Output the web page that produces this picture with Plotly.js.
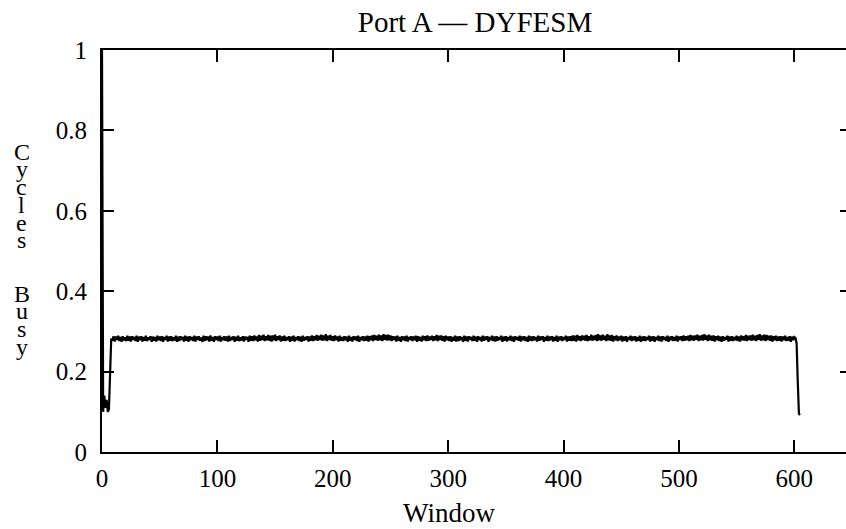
<!DOCTYPE html>
<html>
<head>
<meta charset="utf-8">
<script src="https://cdn.plot.ly/plotly-3.0.1.min.js"></script>
<style>
html,body{margin:0;padding:0;overflow:hidden;background:#fff;}
#chart{width:860px;height:529px;}
</style>
</head>
<body>
<div id="chart"></div>
<script>
// Chart text
const chartTitle = "Port A \u2014 DYFESM";
const xTitle = "Window";
const yTitleChars = ["C","y","c","l","e","s","","","B","u","s","y"];

// Cycles busy per window (window index = position in array, starting at 0)
const busyStart = [1.0, 0.10, 0.14, 0.11, 0.13, 0.10, 0.105, 0.205, 0.282];
const busyMid = [
0.277,0.288,0.275,0.287,0.279,0.289,0.276,0.286,0.274,0.288,0.278,0.285,0.276,0.289,0.277,0.287,0.275,0.288,0.279,0.286,
0.276,0.289,0.274,0.287,0.278,0.288,0.275,0.286,0.277,0.289,0.276,0.285,0.279,0.288,0.274,0.287,0.277,0.286,0.275,0.289,
0.278,0.287,0.276,0.288,0.274,0.286,0.279,0.289,0.275,0.287,0.277,0.288,0.276,0.285,0.278,0.289,0.274,0.287,0.276,0.288,
0.279,0.286,0.275,0.289,0.277,0.287,0.274,0.288,0.278,0.286,0.276,0.289,0.275,0.287,0.279,0.288,0.277,0.285,0.274,0.289,
0.276,0.288,0.278,0.287,0.275,0.290,0.277,0.286,0.274,0.288,0.279,0.287,0.276,0.289,0.275,0.286,0.278,0.288,0.277,0.287,
0.275,0.289,0.276,0.286,0.279,0.288,0.274,0.287,0.277,0.289,0.276,0.285,0.278,0.288,0.275,0.287,0.279,0.286,0.274,0.289,
0.277,0.288,0.276,0.290,0.278,0.287,0.275,0.291,0.277,0.289,0.279,0.292,0.276,0.288,0.278,0.291,0.277,0.289,0.275,0.290,
0.278,0.292,0.276,0.288,0.279,0.290,0.275,0.287,0.277,0.289,0.276,0.286,0.278,0.288,0.274,0.287,0.277,0.289,0.275,0.286,
0.278,0.288,0.276,0.287,0.274,0.289,0.277,0.286,0.279,0.288,0.275,0.287,0.277,0.290,0.276,0.288,0.278,0.291,0.277,0.289,
0.279,0.292,0.277,0.290,0.278,0.293,0.276,0.289,0.279,0.291,0.277,0.288,0.276,0.290,0.278,0.287,0.275,0.289,0.277,0.286,
0.276,0.288,0.278,0.287,0.274,0.289,0.277,0.286,0.275,0.288,0.279,0.287,0.276,0.289,0.274,0.286,0.278,0.288,0.276,0.287,
0.277,0.289,0.275,0.288,0.278,0.290,0.276,0.291,0.279,0.289,0.277,0.292,0.278,0.290,0.276,0.293,0.279,0.291,0.277,0.292,
0.278,0.290,0.276,0.288,0.279,0.287,0.275,0.289,0.277,0.286,0.274,0.288,0.278,0.287,0.276,0.289,0.275,0.286,0.279,0.288,
0.276,0.287,0.278,0.289,0.274,0.288,0.277,0.286,0.275,0.289,0.278,0.288,0.276,0.290,0.277,0.287,0.279,0.289,0.276,0.288,
0.278,0.291,0.276,0.289,0.279,0.290,0.277,0.288,0.275,0.289,0.278,0.287,0.276,0.288,0.274,0.286,0.277,0.289,0.275,0.287,
0.276,0.288,0.278,0.286,0.274,0.289,0.277,0.287,0.275,0.288,0.279,0.286,0.276,0.289,0.277,0.287,0.274,0.288,0.278,0.286,
0.275,0.289,0.277,0.287,0.279,0.288,0.274,0.286,0.278,0.289,0.276,0.287,0.275,0.288,0.277,0.286,0.279,0.289,0.274,0.287,
0.277,0.288,0.275,0.286,0.278,0.289,0.276,0.287,0.274,0.288,0.279,0.286,0.277,0.289,0.275,0.287,0.278,0.288,0.276,0.286,
0.274,0.289,0.277,0.287,0.276,0.288,0.278,0.286,0.275,0.289,0.277,0.287,0.279,0.288,0.274,0.286,0.277,0.289,0.276,0.287,
0.278,0.288,0.275,0.286,0.277,0.289,0.274,0.287,0.278,0.288,0.276,0.286,0.279,0.289,0.275,0.287,0.277,0.288,0.276,0.290,
0.277,0.289,0.275,0.291,0.278,0.288,0.276,0.290,0.279,0.289,0.277,0.291,0.276,0.288,0.278,0.292,0.277,0.289,0.279,0.291,
0.276,0.293,0.278,0.290,0.277,0.292,0.279,0.289,0.276,0.293,0.278,0.290,0.277,0.291,0.275,0.288,0.278,0.290,0.276,0.287,
0.278,0.289,0.275,0.287,0.277,0.288,0.274,0.286,0.279,0.289,0.276,0.287,0.278,0.288,0.275,0.286,0.277,0.289,0.274,0.287,
0.277,0.288,0.276,0.286,0.279,0.289,0.275,0.287,0.277,0.288,0.274,0.286,0.278,0.289,0.276,0.287,0.275,0.288,0.279,0.286,
0.276,0.289,0.274,0.287,0.278,0.288,0.276,0.286,0.277,0.289,0.275,0.287,0.279,0.288,0.276,0.290,0.277,0.288,0.278,0.289,
0.276,0.291,0.278,0.289,0.277,0.290,0.279,0.292,0.276,0.289,0.278,0.291,0.277,0.293,0.279,0.290,0.276,0.292,0.278,0.289,
0.277,0.290,0.275,0.288,0.278,0.289,0.276,0.287,0.274,0.288,0.277,0.286,0.279,0.289,0.275,0.287,0.277,0.288,0.276,0.286,
0.278,0.289,0.276,0.287,0.275,0.290,0.278,0.288,0.277,0.291,0.276,0.289,0.279,0.290,0.277,0.292,0.278,0.289,0.276,0.291,
0.279,0.293,0.277,0.290,0.278,0.292,0.276,0.291,0.279,0.289,0.277,0.290,0.275,0.288,0.278,0.289,0.276,0.287,0.277,0.288,
0.275,0.287,0.278,0.289,0.276,0.286,0.277,0.288,0.274,0.287,0.278,0.286
];
const busyEnd = [0.284, 0.270, 0.175, 0.095, 0.092];
const busy = busyStart.concat(busyMid, busyEnd);

const xTicks = [0, 100, 200, 300, 400, 500, 600];
const yTicks = [0, 0.2, 0.4, 0.6, 0.8, 1];

const serif = "Liberation Serif, Times New Roman, serif";

const trace = {
  y: busy,
  x0: 0, dx: 1,
  type: "scatter",
  mode: "lines",
  line: {color: "#000", width: 2.2},
  hoverinfo: "none"
};

// Stacked (one letter per line) y-axis title, as gnuplot draws it
const annotations = [];
yTitleChars.forEach(function(ch, i){
  if (!ch) return;
  const desc = (ch === "y");
  annotations.push({
    text: ch, xref: "paper", yref: "paper",
    x: -0.107, y: 0.748 - i * 0.0441,
    xanchor: "center", yanchor: "middle",
    height: 17, borderpad: 0,
    valign: desc ? "bottom" : "middle",
    yshift: desc ? -4.8 : 0,
    showarrow: false,
    font: {family: serif, size: 24, color: "#000"}
  });
});
annotations.push({
  text: xTitle, xref: "paper", yref: "paper",
  x: 0.463, y: -0.152, xanchor: "center", yanchor: "middle",
  showarrow: false, font: {family: serif, size: 27, color: "#000"}
});

const axisCommon = {
  showline: true, linecolor: "#000", linewidth: 2,
  mirror: "ticks", ticks: "inside", ticklen: 12, tickwidth: 2, tickcolor: "#000",
  showgrid: false, zeroline: false,
  tickfont: {family: serif, size: 25, color: "#000"}
};

const layout = {
  width: 860, height: 529,
  margin: {l: 102, r: 8, t: 50, b: 77},
  paper_bgcolor: "#fff", plot_bgcolor: "#fff",
  showlegend: false,
  title: {
    text: chartTitle, xref: "container", yref: "container",
    x: 475 / 860, y: 1 - 22 / 529, xanchor: "center", yanchor: "middle",
    font: {family: serif, size: 29, color: "#000"}
  },
  xaxis: Object.assign({}, axisCommon, {
    range: [0, 650], tickvals: xTicks, ticktext: xTicks.map(String),
    ticklabelstandoff: 3
  }),
  yaxis: Object.assign({}, axisCommon, {
    range: [0, 1], tickvals: yTicks, ticktext: yTicks.map(String),
    ticklabelstandoff: 8
  }),
  annotations: annotations
};

Plotly.newPlot("chart", [trace], layout, {staticPlot: true, displayModeBar: false});
</script>
</body>
</html>
